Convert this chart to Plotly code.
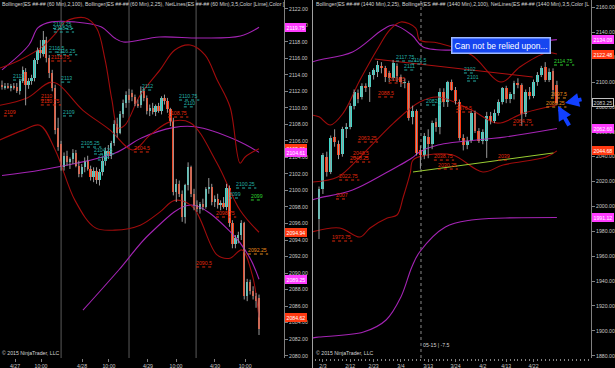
import plotly.graph_objects as go

# ---------------- LEFT PANEL (60 Min, 4/26 evening .. 4/30) ----------------
L_open  = [2112.8,2112.5,2112.7,2112.4,2112.6,2112.5,2112.0,2113.3,2114.3,2112.8,2113.2,2113.6,2115.8,2117.0,2116.5,2118.2,2116.0,2114.2,2112.4,2107.5,
           2105.6,2102.8,2104.2,2103.4,2103.8,2104.5,2103.0,2102.0,2102.8,2103.6,2102.6,2101.6,2102.4,2101.3,2102.2,2103.6,2104.8,2104.2,2105.8,2108.0,
           2107.0,2109.2,2110.6,2111.6,2111.8,2111.3,2110.5,2110.3,2112.0,2111.2,2109.6,2110.0,2109.5,2110.2,2109.6,2111.2,2110.8,2109.8,2108.4,2099.8,
           2100.8,2099.6,2096.8,2100.6,2102.8,2099.6,2098.2,2097.8,2098.4,2098.0,2100.2,2100.4,2098.6,2099.0,2098.2,2098.5,2098.0,2100.3,2096.0,2093.5,
           2094.2,2094.6,2096.0,2087.2,2088.9,2087.8,2087.2,2087.0]
L_high  = [2113.3,2113.0,2113.0,2112.9,2113.0,2113.0,2113.5,2115.0,2114.8,2113.6,2114.0,2116.0,2117.3,2118.2,2119.3,2118.6,2116.4,2114.6,2112.8,2108.8,
           2106.0,2104.6,2104.8,2104.0,2105.0,2104.9,2103.6,2103.2,2104.0,2104.2,2103.0,2102.8,2102.8,2102.6,2104.0,2105.2,2105.5,2106.0,2108.5,2108.8,
           2109.6,2111.0,2112.0,2112.3,2112.2,2111.6,2111.0,2112.6,2112.4,2111.5,2110.4,2110.6,2110.4,2110.6,2111.4,2111.6,2111.2,2110.0,2108.8,2101.4,
           2101.2,2100.0,2100.8,2103.4,2103.0,2100.2,2098.8,2098.6,2099.0,2100.4,2101.5,2100.8,2099.4,2099.6,2098.8,2099.2,2100.8,2100.6,2096.4,2094.6,
           2095.0,2096.4,2096.2,2089.3,2089.2,2088.4,2087.6,2087.4]
L_low   = [2112.2,2112.2,2112.3,2112.0,2112.2,2111.8,2111.6,2113.0,2110.3,2112.3,2112.8,2113.2,2115.3,2116.0,2116.2,2115.5,2113.6,2112.0,2106.8,2104.8,
           2102.4,2102.4,2103.0,2102.6,2103.2,2102.8,2101.6,2101.6,2102.2,2102.4,2101.2,2101.0,2100.8,2100.6,2101.8,2103.0,2103.8,2103.8,2105.4,2106.4,
           2106.8,2108.8,2110.0,2110.6,2110.8,2110.2,2110.0,2110.0,2110.8,2109.2,2109.0,2109.2,2109.0,2109.4,2109.2,2110.4,2109.4,2107.8,2099.4,2098.6,
           2099.2,2096.2,2096.0,2100.0,2099.2,2097.6,2097.4,2097.2,2097.6,2097.8,2099.6,2098.2,2098.0,2097.8,2097.6,2097.8,2097.6,2095.6,2093.0,2093.0,
           2093.6,2094.0,2086.8,2086.6,2087.4,2086.8,2085.8,2082.5]
L_close = [2112.5,2112.7,2112.4,2112.6,2112.5,2112.0,2113.3,2114.6,2112.8,2113.2,2113.6,2115.8,2117.0,2116.6,2118.2,2116.0,2114.2,2112.4,2107.3,2105.2,
           2102.8,2104.2,2103.4,2103.8,2104.5,2103.0,2102.0,2102.8,2103.6,2102.6,2101.6,2102.4,2101.3,2102.2,2103.6,2104.8,2104.2,2105.8,2108.0,2107.0,
           2109.2,2110.6,2111.6,2111.0,2111.3,2110.5,2110.3,2112.0,2111.2,2109.6,2110.0,2109.5,2110.2,2109.6,2111.2,2110.8,2109.8,2108.4,2099.8,2100.8,
           2099.6,2096.8,2100.6,2102.8,2099.6,2098.2,2097.8,2098.4,2098.0,2100.2,2100.4,2098.6,2099.0,2098.2,2098.5,2098.0,2100.3,2096.0,2093.5,2094.2,
           2094.6,2096.0,2087.2,2088.9,2087.8,2087.2,2086.6,2083.25]

L_tick_pos  = [4.4, 13.2, 27.1, 36.2, 49.4, 58.9, 72.1, 82.3]
L_tick_text = ["4/27", "10:00", "4/28", "10:00", "4/29", "10:00", "4/30", "10:00"]
L_session_breaks = [20.0, 43.0, 65.7]

# Bollinger (2,100) - magenta
L_bb100_up_x  = [0, 9.1, 12.2, 16.8, 24.4, 33.5, 38.1, 41.1, 53.3, 67, 80.7, 87]
L_bb100_up_y  = [2114.6, 2117.6, 2119.7, 2120.4, 2120.4, 2119.8, 2118.45, 2117.97, 2118.57, 2118.45, 2118.69, 2119.75]
L_bb100_mid_x = [0, 13.7, 38.1, 47.2, 57.9, 65.5, 79.2, 87]
L_bb100_mid_y = [2101.8, 2102.5, 2104.5, 2106.35, 2107.6, 2107.7, 2106.1, 2104.61]
L_bb100_lo_x  = [27.4, 39.6, 50.3, 64, 77.7, 83.8, 87]
L_bb100_lo_y  = [2085.5, 2090.4, 2094.85, 2098.24, 2094.85, 2091.9, 2089.25]
# Bollinger (2,25) - dark red
L_bb25_up_x  = [-0.8, 6.1, 13.7, 18.3, 21.3, 28, 32, 34.9, 37.2, 39.3, 41.6, 46.8, 53.5, 58.5, 63.7, 68.7, 72.8, 77.2, 80.6, 82.3, 87]
L_bb25_up_y  = [2114.8, 2115.8, 2117.4, 2119.06, 2120.4, 2120.9, 2119.66, 2115.8, 2110.95, 2107.56, 2107.9, 2111.55, 2114.6, 2117.0, 2117.6, 2116.4, 2113.4, 2110.1, 2103.3, 2104.05, 2105.06]
L_bb25_mid_x = [-0.8, 8.5, 17.2, 27.4, 36.6, 44.3, 50.1, 56.8, 63.7, 72.8, 80.6, 87]
L_bb25_mid_y = [2110.3, 2111.2, 2113.1, 2109.7, 2107.3, 2104.9, 2106.7, 2108.3, 2108.2, 2103.3, 2097.6, 2094.94]
L_bb25_lo_x  = [-0.8, 7.2, 12.8, 18, 24.7, 31.5, 38.2, 46.8, 53.5, 58.5, 64.6, 72.8, 77.2, 81.2, 84.7, 87]
L_bb25_lo_y  = [2106.1, 2107.3, 2107.9, 2104.9, 2098.8, 2095.5, 2095.2, 2095.8, 2097.4, 2098.8, 2098.0, 2092.2, 2091.8, 2092.8, 2089.8, 2084.62]

L_lbl_text  = ["2119.25","2118.25","2116.5","2116.25","2115.75","2113","2113","2110","2110.75","2109","2109","2105.25","2104.25","2101",
               "2104.5","2112","2110.75","2110","2108.75","2100.25","2099","2099","2098.75","2092.25","2090.5"]
L_lbl_x     = [16.9,17.2,15.5,18.3,16.3,3.4,19.7,12.8,12.8,0.3,20.3,26.4,30.8,32.1,44.3,47.1,59.6,61.2,55.9,78.9,76.5,83.9,72.1,82.9,65.4]
L_lbl_y     = [2120.1,2119.66,2117.24,2116.9,2116.15,2113.85,2113.6,2111.43,2110.83,2109.5,2109.5,2105.74,2104.9,2104.17,
               2105.14,2112.64,2111.43,2110.6,2109.37,2100.78,2099.57,2099.33,2097.27,2092.79,2091.22]
L_lbl_kind  = ["c","c","c","c","r","c","c","r","r","r","c","c","c","c","r","c","c","c","r","c","c","g","r","o","r"]

L_marks_val  = [2119.75, 2105.06, 2104.61, 2094.94, 2089.25, 2084.62]
L_marks_kind = ["m", "r", "m", "r", "m", "r"]

# ---------------- RIGHT PANEL (1440 Min, 2/2 .. 4/30) ----------------
R_open  = [1990,2014,2040,2028,2056,2050,2042,2062,2064,2081,2091,2088,2097,2096,2106,2108,2113,2111,2107,2103,
           2113,2104,2099.5,2099,2072,2077,2045,2041,2056,2050,2068,2064,2092,2084,2100,2094,2084,2055,2049,2053,
           2075,2061,2053,2053,2073,2069,2075,2084,2095,2086,2090,2099,2098,2074,2092,2089,2100,2106,2112,2102,
           2109,2098]
R_high  = [2016,2043,2044,2057,2062,2053,2064,2067,2083,2094,2094,2099,2099,2108,2111,2117,2116,2113,2109,2117.75,
           2115,2106,2103,2101,2081,2078,2049,2059,2062,2069,2071,2095,2095,2101,2102,2096,2086,2058,2056,2077,
           2077,2063,2062,2076,2076,2078,2086,2096,2097,2092,2101,2103,2099,2094,2096,2102,2108,2113,2116,2111,
           2111,2101]
R_low   = [1973.75,2010,2024,2026,2048,2038,2040,2055,2062,2078,2083,2086,2092,2084,2102,2104,2107,2100,2100,2101,
           2100,2096,2095,2069,2066,2041,2030.25,2038,2038.75,2046,2060,2058,2080,2080,2093,2082,2053,2045,2046,2051,
           2059,2051,2050,2039,2066,2067,2073,2082,2083,2083,2086,2095,2064.75,2072,2086,2087,2097,2104,2100,2100,
           2088.25,2082]
R_close = [2014,2041,2028,2055,2052,2041,2062,2064,2081,2092,2086,2097,2096,2106,2110,2114,2111,2104,2103.5,2115,
           2105,2100,2100,2071,2077,2043,2041,2057,2050,2067,2064,2092,2084,2100,2094,2085,2055,2049,2053,2075,
           2061,2053,2060,2073,2069,2075,2084,2095,2086,2090,2099,2098,2074,2092,2089,2100,2106,2111,2102,2108,
           2094,2083.25]

R_tick_pos  = [1, 8, 14, 21, 28, 35, 42, 48, 55]
R_tick_text = ["2/3", "2/12", "2/23", "3/4", "3/13", "3/24", "4/2", "4/13", "4/22"]
R_rollover  = 26.15

R_bb100_up_x  = [-1.9, 0, 8.6, 16.2, 19.1, 23.8, 26.7, 36.2, 46.7, 54.4, 61]
R_bb100_up_y  = [2116, 2117.7, 2124.15, 2141.8, 2145.85, 2137.8, 2128.2, 2125.75, 2129, 2132.2, 2134.09]
R_bb100_mid_x = [-1.9, 0, 8.6, 17.2, 23.8, 25.8, 30.5, 47.7, 61]
R_bb100_mid_y = [2005.2, 2006.8, 2013.2, 2027, 2038.9, 2043.75, 2049.4, 2055.8, 2062.6]
R_bb100_lo_x  = [-1.9, 0, 11.4, 17.2, 21, 23.8, 25.8, 32.4, 39.1, 47.7, 61]
R_bb100_lo_y  = [1894.2, 1895, 1899, 1908.7, 1927.2, 1951.3, 1963.4, 1983.5, 1989.1, 1990.7, 1991.12]
R_bb25_up_x   = [-1.9, 0, 2.9, 6.2, 10.5, 15.3, 18.1, 21, 24.8, 25.8, 30.5, 39.1, 46.7, 51.5, 58.2, 61]
R_bb25_up_y   = [2073.5, 2072, 2065.5, 2075, 2101.6, 2128.2, 2141.8, 2148.3, 2143.4, 2133.8, 2131.4, 2121.7, 2100, 2112.1, 2123.3, 2122.48]
R_bb25_mid_x  = [-1.9, 4.8, 10.5, 19.1, 25.8, 30.5, 39.1, 45.8, 52.5, 61]
R_bb25_mid_y  = [2019.6, 2023.65, 2039.7, 2067, 2083.95, 2088, 2077.5, 2067, 2075, 2081.5]
R_bb25_lo_x   = [-1.9, 5.3, 10.5, 13.1, 17.5, 20, 21.6, 23.4, 24.1, 27.7, 34.3, 42, 47.2, 58.2, 61]
R_bb25_lo_y   = [1979.4, 1982.65, 1975.4, 1982.65, 1990.7, 1993.1, 2007.6, 2026.9, 2037.3, 2041.3, 2041.3, 2027.7, 2033.3, 2039.7, 2044.68]
R_lime_x = [24.1, 60.1]
R_lime_y = [2027.7, 2043.0]
R_redtl_x = [14.3, 54.8]
R_redtl_y = [2118.5, 2104.05]

R_lbl_text = ["2117.75","2116.5","2111","2104.5","2088.5","2082.5","2063.25","2048.5","2046.25","2022.75","2007","1973.75",
              "2038.75","2030.25","2102","2101","2076.5","2064.75","2039","2114.75","2097.5","2088.25"]
R_lbl_x    = [19.5,23.4,21.6,17.6,14.9,27.2,9.7,8.5,7.7,4.9,4.1,3.1,29.2,30.2,36.9,37.7,34.9,49.5,45.6,60.0,59.2,58.0]
R_lbl_y    = [2120.13,2117.7,2112.9,2102.44,2091.2,2084.75,2055.0,2042.95,2038.93,2024.46,2009.2,1975.42,
              2040.5,2033.3,2110.5,2104.05,2079.1,2068.7,2040.5,2116.9,2090.4,2083.15]
R_lbl_kind = ["c","c","c","r","r","c","r","r","r","r","r","r","r","r","c","c","r","r","r","g","o","o"]

R_marks_val  = [2134.09, 2122.48, 2083.25, 2062.60, 2044.68, 1991.12]
R_marks_kind = ["m", "r", "k", "m", "r", "m"]

# ---------------- STYLE ----------------
UP, DN, WICK = "#3FD9CB", "#FF3A12", "#9a9a9a"
MAG, DRED = "#A424B4", "#A00C0C"
LBL = {"c": "#22ADA4", "r": "#E0280C", "g": "#2FD22F", "o": "#E88A1A"}
FONT = "Liberation Sans"
FS = 5.2

fig = go.Figure()

def add_panel(o, h, l, c, xa, ya, width):
    wx, wy = [], []
    for i in range(len(o)):
        wx += [i, i, None]
        wy += [l[i], h[i], None]
    fig.add_trace(go.Scatter(x=wx, y=wy, mode="lines", line=dict(color=WICK, width=1),
                             xaxis=xa, yaxis=ya, hoverinfo="skip", showlegend=False))
    base = [min(a, b) for a, b in zip(o, c)]
    hgt = [max(abs(b - a), 0.0001) for a, b in zip(o, c)]
    cols = [UP if b >= a else DN for a, b in zip(o, c)]
    fig.add_trace(go.Bar(x=list(range(len(o))), y=hgt, base=base, marker=dict(color=cols, line=dict(width=0)),
                         width=width, xaxis=xa, yaxis=ya, showlegend=False))

def add_line(x, y, color, xa, ya, width=1.1, dash=None, shape="spline"):
    fig.add_trace(go.Scatter(x=x, y=y, mode="lines", line=dict(color=color, width=width, shape=shape, dash=dash),
                             xaxis=xa, yaxis=ya, hoverinfo="skip", showlegend=False))

for xs, ys, col in [(L_bb100_up_x, L_bb100_up_y, MAG), (L_bb100_mid_x, L_bb100_mid_y, MAG), (L_bb100_lo_x, L_bb100_lo_y, MAG),
                    (L_bb25_up_x, L_bb25_up_y, DRED), (L_bb25_mid_x, L_bb25_mid_y, DRED), (L_bb25_lo_x, L_bb25_lo_y, DRED)]:
    add_line(xs, ys, col, "x", "y")
for xs, ys, col in [(R_bb100_up_x, R_bb100_up_y, MAG), (R_bb100_mid_x, R_bb100_mid_y, MAG), (R_bb100_lo_x, R_bb100_lo_y, MAG),
                    (R_bb25_up_x, R_bb25_up_y, DRED), (R_bb25_mid_x, R_bb25_mid_y, DRED), (R_bb25_lo_x, R_bb25_lo_y, DRED)]:
    add_line(xs, ys, col, "x2", "y2")
add_line(R_lime_x, R_lime_y, "#9ACD32", "x2", "y2", width=1, shape="linear")
add_line(R_redtl_x, R_redtl_y, "#B01010", "x2", "y2", width=1, shape="linear")

add_panel(L_open, L_high, L_low, L_close, "x", "y", 0.78)
add_panel(R_open, R_high, R_low, R_close, "x2", "y2", 0.74)

shapes = []
for s in L_session_breaks:
    shapes.append(dict(type="line", xref="x", yref="y domain", x0=s, x1=s, y0=0, y1=1,
                       line=dict(color="#5a5a5a", width=1), layer="below"))
shapes.append(dict(type="line", xref="x2", yref="y2 domain", x0=R_rollover, x1=R_rollover, y0=0, y1=1,
                   line=dict(color="#8a8a8a", width=1, dash="dot"), layer="below"))
shapes.append(dict(type="line", xref="paper", yref="paper", x0=312.5/615, x1=312.5/615, y0=-0.03, y1=1,
                   line=dict(color="#a0a0a0", width=1)))

annotations = []

def add_labels(texts, xs, ys, kinds, xa, ya):
    for t, x, y, k in zip(texts, xs, ys, kinds):
        col = LBL[k]
        annotations.append(dict(x=x, y=y, xref=xa, yref=ya, text=t, showarrow=False, xanchor="left", yanchor="middle",
                                font=dict(family=FONT, size=FS, color=col), borderpad=0))
        w = len(t) * 2.75
        shapes.append(dict(type="line", xref=xa, yref=ya, xsizemode="pixel", ysizemode="pixel",
                           xanchor=x, yanchor=y, x0=1, x1=w + 2, y0=-4, y1=-4,
                           line=dict(color=col, width=1, dash="dot")))

add_labels(L_lbl_text, L_lbl_x, L_lbl_y, L_lbl_kind, "x", "y")
add_labels(R_lbl_text, R_lbl_x, R_lbl_y, R_lbl_kind, "x2", "y2")

def add_marks(vals, kinds, xa, ya):
    for v, k in zip(vals, kinds):
        if k == "m":
            bg, fc, bc = "#FF3CFF", "#ffffff", "#FF3CFF"
        elif k == "r":
            bg, fc, bc = "#FF3A12", "#ffffff", "#FF3A12"
        else:
            bg, fc, bc = "#000000", "#d0d0d0", "#c0c0c0"
        annotations.append(dict(x=1.004, y=v, xref=xa + " domain", yref=ya, text="%.2f" % v, showarrow=False,
                                xanchor="left", yanchor="middle", bgcolor=bg, bordercolor=bc, borderwidth=1, borderpad=0.5,
                                font=dict(family=FONT, size=FS, color=fc)))

add_marks(L_marks_val, L_marks_kind, "x", "y")
add_marks(R_marks_val, R_marks_kind, "x2", "y2")

TXT = "#d4d4d4"
annotations += [
    dict(x=0, y=1, xref="paper", yref="paper", xanchor="left", yanchor="top", showarrow=False, yshift=1,
         text="Bollinger(ES ##-## (60 Min),2,100), Bollinger(ES ##-## (60 Min),2,25), NetLines(ES ##-## (60 Min),3,5,Color [Lime],Color [",
         font=dict(family=FONT, size=FS, color=TXT)),
    dict(x=314/615, y=1, xref="paper", yref="paper", xanchor="left", yanchor="top", showarrow=False, yshift=1,
         text="Bollinger(ES ##-## (1440 Min),2,25), Bollinger(ES ##-## (1440 Min),2,100), NetLines(ES ##-## (1440 Min),3,5,Color [L",
         font=dict(family=FONT, size=FS, color=TXT)),
    dict(x=0, y=0, xref="paper", yref="paper", xanchor="left", yanchor="bottom", showarrow=False, yshift=0,
         text="© 2015 NinjaTrader, LLC", font=dict(family=FONT, size=FS, color=TXT)),
    dict(x=314/615, y=0, xref="paper", yref="paper", xanchor="left", yanchor="bottom", showarrow=False, yshift=0,
         text="© 2015 NinjaTrader, LLC", font=dict(family=FONT, size=FS, color=TXT)),
    dict(x=R_rollover, y=0, xref="x2", yref="paper", xanchor="left", yanchor="bottom", showarrow=False, yshift=8,
         text="05-15 | -7.5", font=dict(family=FONT, size=FS, color=TXT)),
    dict(x=501/615, y=1 - 45/358, xref="paper", yref="paper", xanchor="center", yanchor="middle", showarrow=False,
         text="Can not be relied upon...",
         font=dict(family=FONT, size=8.5, color="#ffffff"), bgcolor="#1646F0", bordercolor="#9db8ff", borderwidth=1.5, borderpad=2),
    dict(x=565/615, y=1 - 103/358, xref="paper", yref="paper", ax=18, ay=-4, text="", showarrow=True,
         arrowhead=2, arrowsize=0.7, arrowwidth=4, arrowcolor="#1240FF"),
    dict(x=558/615, y=1 - 106/358, xref="paper", yref="paper", ax=12, ay=21, text="", showarrow=True,
         arrowhead=2, arrowsize=0.7, arrowwidth=4, arrowcolor="#1240FF"),
]

axis_font = dict(family=FONT, size=FS, color="#c8c8c8")
L_range_x = [-0.68, 95.46]
R_range_x = [-1.54, 69.74]

fig.update_layout(
    width=615, height=368, margin=dict(l=0, r=0, t=0, b=10),
    paper_bgcolor="#000000", plot_bgcolor="#000000", barmode="overlay", bargap=0,
    showlegend=False, shapes=shapes, annotations=annotations,
    xaxis=dict(domain=[0, 284/615], range=L_range_x, showgrid=False, zeroline=False, tickmode="array",
               tickvals=L_tick_pos, ticktext=L_tick_text, ticks="outside", ticklen=3, tickcolor="#808080",
               tickfont=axis_font, showline=False, anchor="y"),
    yaxis=dict(domain=[0, 1], range=[2079.72, 2123.05], side="right", anchor="x", showgrid=False, zeroline=False,
               tickmode="linear", tick0=2080, dtick=2, tickformat=".2f", ticks="outside", ticklen=3, tickcolor="#808080",
               tickfont=axis_font, showline=True, linecolor="#808080", linewidth=1),
    xaxis2=dict(domain=[313/615, 591/615], range=R_range_x, showgrid=False, zeroline=False, tickmode="array",
                tickvals=R_tick_pos, ticktext=R_tick_text, ticks="outside", ticklen=3, tickcolor="#808080",
                minor=dict(ticks="outside", ticklen=2, tickcolor="#808080", dtick=1, tick0=0),
                tickfont=axis_font, showline=False, anchor="y2"),
    yaxis2=dict(domain=[0, 1], range=[1878.15, 2165.95], side="right", anchor="x2", showgrid=False, zeroline=False,
                tickmode="linear", tick0=1880, dtick=20, tickformat=".2f", ticks="outside", ticklen=3, tickcolor="#808080",
                tickfont=axis_font, showline=True, linecolor="#808080", linewidth=1),
)

fig.write_html("out.html")
